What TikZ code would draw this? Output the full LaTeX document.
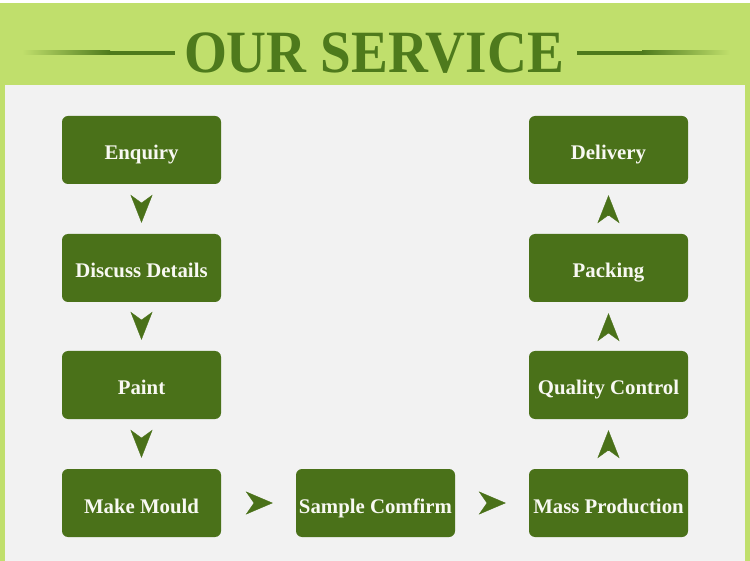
\documentclass[tikz,border=0pt]{standalone}
\usepackage{fontspec}
\setmainfont{Liberation Serif}
\usetikzlibrary{arrows.meta}
\definecolor{band}{RGB}{192,223,108}
\definecolor{panel}{RGB}{242,242,242}
\definecolor{boxg}{RGB}{74,113,25}
\definecolor{titleg}{RGB}{78,122,28}
\definecolor{txt}{RGB}{248,248,242}
\tikzset{
  stepbox/.style={fill=boxg, rounded corners=6pt, minimum width=159pt, minimum height=68pt,
    inner sep=0pt, text=txt, text height=20pt, text depth=0pt,
    font=\fontsize{20.8}{24}\selectfont\bfseries},
  vflow/.style={draw=boxg, fill=boxg, line width=0.3pt,
    -{Stealth[length=28pt,width=22pt,inset=8pt]}, shorten <=19pt, shorten >=11pt},
  hflow/.style={draw=boxg, fill=boxg, line width=0.3pt,
    -{Stealth[length=27pt,width=23pt,inset=8pt]}, shorten <=33pt, shorten >=23pt}
}
\begin{document}
\begin{tikzpicture}[x=1pt,y=-1pt]
\useasboundingbox (0,0) rectangle (750,561);
% background
\fill[white] (0,0) rectangle (750,561);
\fill[band] (0,3) rectangle (750,561);
\fill[panel] (5,85) rectangle (745,561);
% title
\node[anchor=base, text=titleg, inner sep=0pt] (title) at (374,73)
  {\scalebox{0.92}[1]{\fontsize{60}{60}\selectfont\bfseries OUR SERVICE}};
\shade[left color=band, right color=titleg] (22,51) rectangle (110,55);
\fill[titleg] (110,51) rectangle (175,55);
\fill[titleg] (577,51) rectangle (642,55);
\shade[left color=titleg, right color=band] (642,51) rectangle (730,55);
% boxes
\node[stepbox] (enq) at (141.5,150) {Enquiry};
\node[stepbox] (dis) at (141.5,268) {Discuss Details};
\node[stepbox] (pai) at (141.5,385) {Paint};
\node[stepbox] (mou) at (141.5,503) {Make Mould};
\node[stepbox] (sam) at (375.5,503) {Sample Comfirm};
\node[stepbox] (mas) at (608.5,503) {Mass Production};
\node[stepbox] (qua) at (608.5,385) {Quality Control};
\node[stepbox] (pac) at (608.5,268) {Packing};
\node[stepbox] (del) at (608.5,150) {Delivery};
% arrows
\draw[vflow] (enq.south) -- (dis.north);
\draw[vflow] (dis.south) -- (pai.north);
\draw[vflow] (pai.south) -- (mou.north);
\draw[hflow] (mou.east) -- (sam.west);
\draw[hflow] (sam.east) -- (mas.west);
\draw[vflow] (mas.north) -- (qua.south);
\draw[vflow] (qua.north) -- (pac.south);
\draw[vflow] (pac.north) -- (del.south);
\end{tikzpicture}
\end{document}
